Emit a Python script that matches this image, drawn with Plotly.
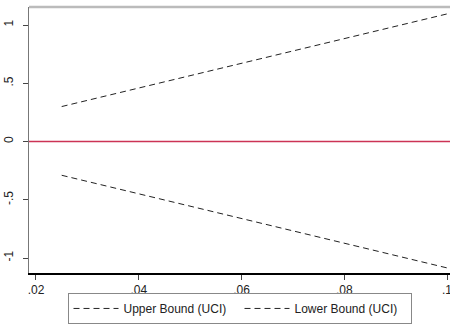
import plotly.graph_objects as go

# data
x_vals = [0.025, 0.05, 0.075, 0.1]
upper_vals = [0.30, 0.565, 0.83, 1.095]
lower_vals = [-0.29, -0.555, -0.82, -1.085]
ref_x = [0.01864, 0.10058]
ref_y = [0, 0]
x_ticks = [0.02, 0.04, 0.06, 0.08, 0.1]
x_ticklabels = [".02", ".04", ".06", ".08", ".1"]
y_ticks = [-1, -0.5, 0, 0.5, 1]
y_ticklabels = ["-1", "-.5", "0", ".5", "1"]

font = "Liberation Sans, Arial, sans-serif"

fig = go.Figure()
fig.add_trace(go.Scatter(x=ref_x, y=ref_y, mode="lines", showlegend=False,
                         line=dict(color="#CC3355", width=1.5), hoverinfo="skip"))
fig.add_trace(go.Scatter(x=x_vals, y=upper_vals, mode="lines", name="Upper Bound (UCI)",
                         line=dict(color="#222222", width=1, dash="6px,4px")))
fig.add_trace(go.Scatter(x=x_vals, y=lower_vals, mode="lines", name="Lower Bound (UCI)",
                         line=dict(color="#222222", width=1, dash="6px,4px")))

fig.update_layout(
    width=450, height=326, autosize=False,
    margin=dict(l=29, r=0, t=7, b=53, autoexpand=False),
    paper_bgcolor="white", plot_bgcolor="white",
    font=dict(family=font, size=12, color="#222222"),
    xaxis=dict(range=[0.01864, 0.10058], tickvals=x_ticks, ticktext=x_ticklabels,
               showgrid=False, zeroline=False, showline=True, linecolor="black", linewidth=1.5,
               ticks="outside", ticklen=5, tickcolor="#444444", tickfont=dict(size=12),
               automargin=False, ticklabeloverflow="allow"),
    yaxis=dict(range=[-1.1288, 1.1545], tickvals=y_ticks, ticktext=y_ticklabels,
               showgrid=False, zeroline=False, showline=True, linecolor="#777777", linewidth=1,
               ticks="outside", ticklen=5, tickcolor="#444444", tickangle=-90,
               tickfont=dict(size=12), ticklabelstandoff=5, automargin=False),
    legend=dict(orientation="h", x=0.5, xanchor="center", y=-0.075, yanchor="top",
                bordercolor="#888888", borderwidth=1, font=dict(size=12),
                itemwidth=45, tracegroupgap=0, entrywidth=111, entrywidthmode="pixels"),
    shapes=[dict(type="line", xref="paper", yref="paper", x0=0, x1=1, y0=1, y1=1,
                 line=dict(color="#BBBBBB", width=2.5))],
)

fig.write_html("out.html", config={"displayModeBar": False},
               post_script="document.body.style.margin='0';document.body.style.overflow='hidden';")
